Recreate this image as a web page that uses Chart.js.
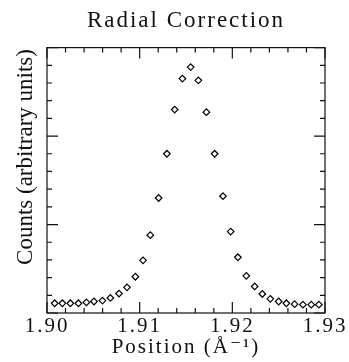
<!DOCTYPE html>
<html>
<head>
<meta charset="utf-8">
<script src="https://cdn.jsdelivr.net/npm/chart.js@4/dist/chart.umd.min.js"></script>
<style>
  html, body { margin: 0; padding: 0; background: #fff; }
  #wrap { width: 349px; height: 362px; }
</style>
</head>
<body>
<div id="wrap"><canvas id="radialChart" width="349" height="362"></canvas></div>
<script>
// Значения
const positions = [
  1.90083, 1.90166, 1.90252, 1.90339, 1.90425, 1.90507, 1.90598, 1.90684,
  1.90777, 1.90863, 1.90954, 1.91036, 1.91115, 1.91205, 1.91294, 1.91378,
  1.91461, 1.91550, 1.91633, 1.91720, 1.91809, 1.91899, 1.91982, 1.92060,
  1.92151, 1.92241, 1.92324, 1.92410, 1.92500, 1.92583, 1.92672, 1.92762,
  1.92852, 1.92934
];
const counts = [
  0.11, 0.11, 0.11, 0.11, 0.12, 0.13, 0.14, 0.17,
  0.22, 0.29, 0.41, 0.595, 0.88, 1.30, 1.80, 2.30,
  2.65, 2.78, 2.63, 2.27, 1.80, 1.32, 0.92, 0.63,
  0.42, 0.30, 0.215, 0.16, 0.13, 0.11, 0.10, 0.094,
  0.094, 0.094
];
const xTickLabels = ['1.90', '1.91', '1.92', '1.93'];
const yTitle = 'Counts (arbitrary units)';

const FONT = "'Liberation Serif', 'DejaVu Serif', serif";
const qs = (id) => document.getElementById(id);

const isMajorX = (v) => Math.round(v * 1000) % 10 === 0;
const isMajorY = (v) => Math.round(v * 10) % 10 === 0;

// Скан оригинала набран с разрядкой — немного раздвигаем буквы
// (ставим перед каждой отрисовкой: смена размера canvas сбрасывает контекст)
const spacing = {
  id: 'spacing',
  beforeDraw(chart) { chart.ctx.letterSpacing = '2px'; }
};

// Рамка, внутренние засечки на всех сторонах и подпись оси Y
const frameTicks = {
  id: 'frameTicks',
  afterDraw(chart) {
    const { ctx, chartArea: a, scales: { x, y } } = chart;
    ctx.save();
    ctx.strokeStyle = '#111';
    ctx.lineWidth = 1.2;
    ctx.beginPath();
    x.ticks.forEach(t => {
      const px = x.getPixelForValue(t.value);
      const len = isMajorX(t.value) ? 11 : 5;
      ctx.moveTo(px, a.bottom); ctx.lineTo(px, a.bottom - len);
      ctx.moveTo(px, a.top); ctx.lineTo(px, a.top + len);
    });
    y.ticks.forEach(t => {
      const py = y.getPixelForValue(t.value);
      const len = isMajorY(t.value) ? 11 : 5;
      ctx.moveTo(a.left, py); ctx.lineTo(a.left + len, py);
      ctx.moveTo(a.right, py); ctx.lineTo(a.right - len, py);
    });
    ctx.stroke();
    ctx.strokeRect(a.left, a.top, a.right - a.left, a.bottom - a.top);

    // подпись оси Y в оригинале сдвинута вверх от центра
    ctx.letterSpacing = '0px';
    ctx.translate(26, 157);
    ctx.rotate(-Math.PI / 2);
    ctx.fillStyle = '#111';
    ctx.font = `23px ${FONT}`;
    ctx.textAlign = 'center';
    ctx.textBaseline = 'middle';
    ctx.fillText(yTitle, 0, 0);
    ctx.restore();
  }
};

new Chart(qs('radialChart'), {
  type: 'scatter',
  data: {
    datasets: [{
      data: positions.map((p, i) => ({ x: p, y: counts[i] })),
      pointStyle: 'rectRot',
      pointRadius: 3.3,
      borderWidth: 1.2,
      borderColor: '#000',
      backgroundColor: '#fff',
      showLine: false
    }]
  },
  options: {
    responsive: false,
    animation: false,
    layout: { padding: { left: 47, right: 24 } },
    plugins: {
      legend: { display: false },
      tooltip: { enabled: false },
      title: {
        display: true,
        text: 'Radial Correction',
        color: '#111',
        font: { family: FONT, size: 23, weight: 'normal' },
        padding: { top: 7, bottom: 13 }
      }
    },
    scales: {
      x: {
        type: 'linear',
        min: 1.90,
        max: 1.93,
        afterFit: (s) => { s.height = 49; },
        grid: { display: false, drawTicks: false },
        border: { display: false },
        ticks: {
          stepSize: 0.002,
          autoSkip: false,
          maxRotation: 0,
          padding: 1,
          color: '#111',
          font: { family: FONT, size: 21 },
          callback: (v) => isMajorX(v) ? xTickLabels[Math.round((v - 1.90) * 100)] : ''
        },
        title: {
          display: true,
          text: 'Position (Å⁻¹)',
          color: '#111',
          font: { family: FONT, size: 21 },
          padding: { top: 0, bottom: 2 }
        }
      },
      y: {
        min: 0,
        max: 3,
        afterFit: (s) => { s.width = 0; },
        grid: { display: false, drawTicks: false },
        border: { display: false },
        ticks: { display: false, stepSize: 0.2 },
        title: { display: false }
      }
    }
  },
  plugins: [spacing, frameTicks]
});
</script>
</body>
</html>
